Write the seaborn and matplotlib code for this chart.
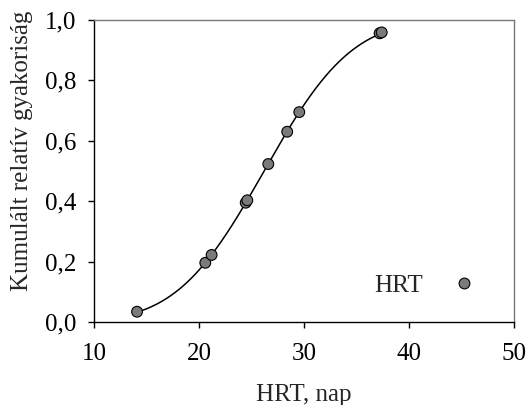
import numpy as np
import pandas as pd
import matplotlib
matplotlib.use("Agg")
import matplotlib.pyplot as plt
import seaborn as sns
from math import erf, sqrt

# Data
hrt_days = [14.1, 20.6, 21.2, 24.45, 24.6, 26.6, 28.4, 29.55, 37.2, 37.4]
cum_rel_freq = [0.034, 0.196, 0.222, 0.395, 0.403, 0.523, 0.630, 0.695, 0.956, 0.959]
x_ticks = [10, 20, 30, 40, 50]
y_ticks = [0.0, 0.2, 0.4, 0.6, 0.8, 1.0]
y_tick_labels = ["0,0", "0,2", "0,4", "0,6", "0,8", "1,0"]
series_name = "HRT"

sns.set_theme(style="white")
plt.rcParams["font.family"] = ["Liberation Serif", "DejaVu Serif"]

df = pd.DataFrame({"HRT": hrt_days, "F": cum_rel_freq, "series": series_name})

# Fit a cumulative normal curve to the points (least squares grid search)
xs = np.array(hrt_days)
ys = np.array(cum_rel_freq)
ncdf = np.vectorize(lambda z: 0.5 * (1 + erf(z / sqrt(2))))
best = None
for mu in np.linspace(22, 30, 161):
    for sg in np.linspace(4, 9, 101):
        err = np.sum((ncdf((xs - mu) / sg) - ys) ** 2)
        if best is None or err < best[0]:
            best = (err, mu, sg)
_, mu, sg = best
xc = np.linspace(xs.min(), xs.max(), 300)
curve = pd.DataFrame({"HRT": xc, "F": ncdf((xc - mu) / sg)})

FS = 18
fig = plt.figure(figsize=(5.28, 4.05), dpi=100)
ax = fig.add_axes([94 / 528, 1 - 322 / 405, (514 - 94) / 528, (322 - 20) / 405])

sns.lineplot(data=curve, x="HRT", y="F", ax=ax, color="black", linewidth=1.1, legend=False)
sns.scatterplot(data=df, x="HRT", y="F", hue="series", palette=["#7a7a7a"], ax=ax,
                s=60, edgecolor="black", linewidth=0.8, zorder=3)

ax.set_xlim(10, 50)
ax.set_ylim(0, 1)
ax.set_xticks(x_ticks)
ax.set_xticklabels([str(t) for t in x_ticks])
ax.set_yticks(y_ticks)
ax.set_yticklabels(y_tick_labels)
ax.tick_params(axis="both", direction="out", length=4, width=1, labelsize=FS,
               colors="black", bottom=True, left=True)
ax.tick_params(axis="x", pad=11)
ax.tick_params(axis="y", pad=9)
ax.set_xlabel("HRT, nap", fontsize=FS, labelpad=14)
ax.set_ylabel("Kumulált relatív gyakoriság", fontsize=FS)
ax.yaxis.set_label_coords(-0.145, 0.566)

for side in ["left", "bottom"]:
    ax.spines[side].set_color("black")
    ax.spines[side].set_linewidth(1.0)
for side in ["top", "right"]:
    ax.spines[side].set_color("#777777")
    ax.spines[side].set_linewidth(1.0)

leg = ax.legend(loc="center right", bbox_to_anchor=(0.911, 0.12), frameon=False,
                fontsize=FS, markerfirst=False, handlelength=1.0, handletextpad=1.14,
                borderpad=0, borderaxespad=0)
leg.set_title(None)

fig.savefig("out.png", dpi=100)
